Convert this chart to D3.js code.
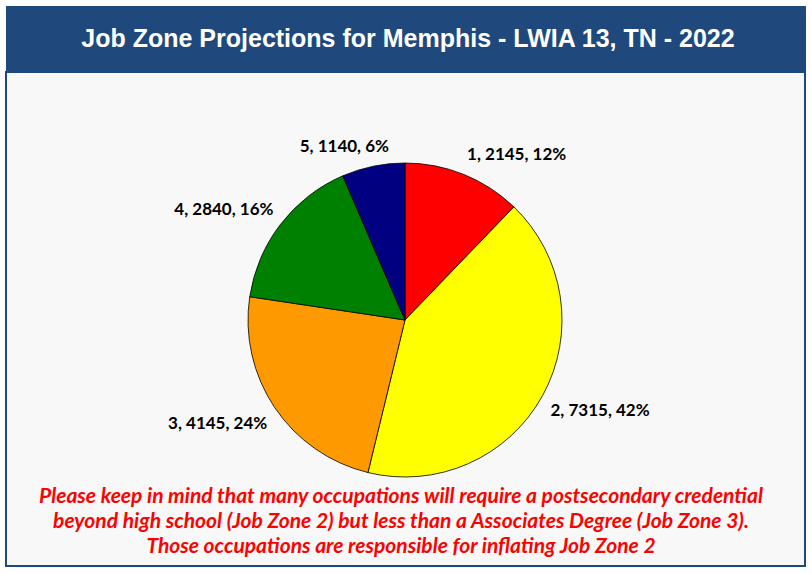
<!DOCTYPE html>
<html>
<head>
<meta charset="utf-8">
<script src="https://cdn.jsdelivr.net/npm/d3@7"></script>
<style>
  html, body { margin: 0; padding: 0; background: #ffffff; }
  svg { display: block; }
</style>
</head>
<body>
<svg id="chart" width="812" height="573"></svg>
<script>
// ---- Data ----
const title = "Job Zone Projections for Memphis - LWIA 13, TN - 2022";
const zones = ["1", "2", "3", "4", "5"];
const values = [2145, 7315, 4145, 2840, 1140];
const percents = ["12%", "42%", "24%", "16%", "6%"];
const colors = ["#FF0000", "#FFFF00", "#FF9900", "#008000", "#000080"];
const noteLines = [
  "Please keep in mind that many occupations will require a postsecondary credential",
  "beyond high school (Job Zone 2) but less than a Associates Degree (Job Zone 3).",
  "Those occupations are responsible for inflating Job Zone 2"
];

const W = 812, H = 573;
const svg = d3.select("#chart");

// Panel
svg.append("rect")
  .attr("x", 6).attr("y", 72).attr("width", 799).attr("height", 494)
  .attr("fill", "#F8F8F8").attr("stroke", "#1F497D").attr("stroke-width", 2);

// Header
svg.append("rect")
  .attr("x", 6).attr("y", 6).attr("width", 800).attr("height", 67)
  .attr("fill", "#1F497D");

svg.append("text")
  .attr("x", 408).attr("y", 38)
  .attr("text-anchor", "middle").attr("dominant-baseline", "central")
  .attr("fill", "#ffffff")
  .attr("font-family", "'Liberation Sans', Arial, sans-serif")
  .attr("font-weight", "bold").attr("font-size", 25)
  .text(title);

// Pie
const cx = 405, cy = 320, R = 157;
const data = zones.map((z, i) => ({ zone: z, value: values[i], pct: percents[i], color: colors[i] }));
const pie = d3.pie().sort(null).value(d => d.value);
const arc = d3.arc().innerRadius(0).outerRadius(R);
const arcs = pie(data);

const g = svg.append("g").attr("transform", `translate(${cx},${cy})`);
g.selectAll("path").data(arcs).join("path")
  .attr("d", arc)
  .attr("fill", d => d.data.color)
  .attr("stroke", "#000000").attr("stroke-width", 0.8);

// Labels (outside end, Excel-like placement)
const gapX = 9, gapY = 14;
const labels = g.selectAll("text.lbl").data(arcs).join("text")
  .attr("class", "lbl")
  .attr("font-family", "Lato, 'Open Sans', sans-serif")
  .attr("font-weight", "bold").attr("font-size", 17)
  .attr("fill", "#000000")
  .attr("dominant-baseline", "central")
  .text(d => `${d.data.zone}, ${d.data.value}, ${d.data.pct}`);

labels.each(function(d) {
  const a = (d.startAngle + d.endAngle) / 2;
  const s = Math.sin(a), c = Math.cos(a);
  const ax = s * (R + gapX), ay = -c * (R + gapY);
  const w = this.getComputedTextLength();
  const h = 15;
  const clamp = v => Math.max(-1, Math.min(1, v));
  const fx = 0.5 - 0.5 * clamp(s * 3);   // fraction of width left of anchor
  const fy = 0.5 + 0.5 * clamp(c * 3);   // fraction of height above anchor
  const left = ax - fx * w;
  const top = ay - fy * h;
  d3.select(this).attr("x", left).attr("y", top + h / 2);
});

// Note
svg.append("g").selectAll("text").data(noteLines).join("text")
  .attr("x", 401)
  .attr("y", (d, i) => 494 + i * 25)
  .attr("text-anchor", "middle").attr("dominant-baseline", "central")
  .attr("fill", "#FF0000")
  .attr("font-family", "Lato, 'Open Sans', sans-serif")
  .attr("font-weight", "bold").attr("font-style", "italic").attr("font-size", 21)
  .text(d => d);
</script>
</body>
</html>
